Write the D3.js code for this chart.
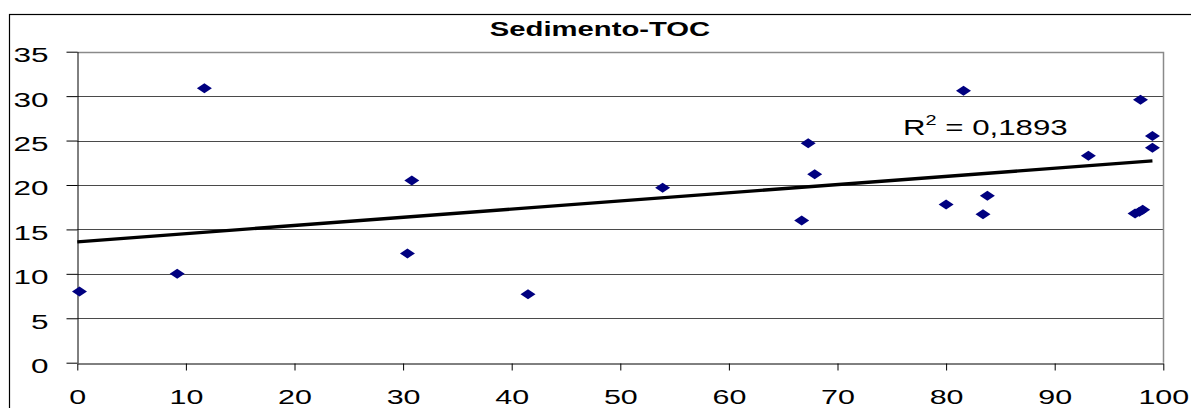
<!DOCTYPE html>
<html>
<head>
<meta charset="utf-8">
<script src="https://cdn.jsdelivr.net/npm/d3@7"></script>
<style>
  html, body { margin: 0; padding: 0; background: #fff; }
  svg { display: block; }
  text { font-family: "Liberation Sans", Arial, sans-serif; }
</style>
</head>
<body>
<svg id="chart" width="1191" height="408"></svg>
<script>
// ---- data ----
const title = "Sedimento-TOC";
const xValues = [0.2, 9.2, 11.7, 30.4, 30.8, 41.5, 53.9, 66.7, 67.3, 67.9, 80.0, 81.6, 83.4, 83.8, 93.1, 97.4, 97.8, 98.1, 97.9, 99.0, 99.0];
const yValues = [8.0, 10.0, 30.9, 12.3, 20.5, 7.7, 19.7, 16.0, 24.7, 21.2, 17.8, 30.6, 16.7, 18.8, 23.3, 16.8, 17.0, 17.2, 29.6, 25.5, 24.2];
const xTicks = [0, 10, 20, 30, 40, 50, 60, 70, 80, 90, 100];
const yTicks = [0, 5, 10, 15, 20, 25, 30, 35];
// linear trendline as drawn in the reference (intercept, slope)
const trendCoef = [13.6, 0.0921];
const r2Label = "0,1893";

const svg = d3.select("#chart");
const W = 1191, H = 408;
const plot = { left: 77.3, right: 1163.3, top: 51.7, bottom: 362.7 };

const x = d3.scaleLinear().domain([0, 100]).range([plot.left, plot.right]);
const y = d3.scaleLinear().domain([0, 35]).range([plot.bottom, plot.top]);

// outer chart frame
svg.append("rect")
  .attr("x", 9.5).attr("y", 14.5)
  .attr("width", W).attr("height", H)
  .attr("fill", "#fff").attr("stroke", "#000").attr("stroke-width", 1.2);

// title
svg.append("text")
  .attr("transform", `translate(600,35.5) scale(1.5,1)`)
  .attr("text-anchor", "middle")
  .attr("font-size", 19.5)
  .attr("font-weight", "bold")
  .text(title);

// gridlines
svg.append("g").selectAll("line")
  .data(yTicks.filter(d => d > 0 && d < 35))
  .join("line")
  .attr("x1", plot.left).attr("x2", plot.right)
  .attr("y1", d => Math.round(y(d)) + 0.5).attr("y2", d => Math.round(y(d)) + 0.5)
  .attr("stroke", "#4a4a4a").attr("stroke-width", 1);

// plot border top and right (gray)
svg.append("path")
  .attr("d", `M${plot.left},${Math.round(plot.top)+0.5}H${Math.round(plot.right)+0.5}V${plot.bottom}`)
  .attr("fill", "none").attr("stroke", "#8a8a8a").attr("stroke-width", 1.5);

// y axis
const yAxis = d3.axisLeft(y).tickValues(yTicks).tickSize(11).tickSizeOuter(0).tickFormat(d3.format("d"));
const gy = svg.append("g").attr("transform", `translate(${Math.round(plot.left)+0.5},0)`).call(yAxis);
gy.select(".domain").attr("stroke", "#000");
gy.selectAll(".tick line").attr("stroke", "#000");
gy.selectAll(".tick text").remove();
gy.selectAll(".tick").append("text")
  .attr("transform", "translate(-29,10) scale(1.5,1)")
  .attr("text-anchor", "end")
  .attr("fill", "#000")
  .attr("font-size", 21)
  .text(d => d);

// x axis
const xAxis = d3.axisBottom(x).tickValues(xTicks).tickSize(7).tickSizeOuter(0);
const gx = svg.append("g").attr("transform", `translate(0,${Math.round(plot.bottom)+0.5})`).call(xAxis);
gx.select(".domain").attr("stroke", "#000");
gx.selectAll(".tick line").attr("stroke", "#000");
gx.selectAll(".tick text").remove();
gx.selectAll(".tick").append("text")
  .attr("transform", "translate(0,40.5) scale(1.45,1)")
  .attr("text-anchor", "middle")
  .attr("fill", "#000")
  .attr("font-size", 21)
  .text(d => d);

// trendline
const x0 = 0, x1 = d3.max(xValues);
svg.append("line")
  .attr("x1", x(x0)).attr("y1", y(trendCoef[0] + trendCoef[1]*x0))
  .attr("x2", x(x1)).attr("y2", y(trendCoef[0] + trendCoef[1]*x1))
  .attr("stroke", "#000").attr("stroke-width", 3.4);

// points (diamonds)
const pts = xValues.map((v, i) => [v, yValues[i]]);
svg.append("g").selectAll("path")
  .data(pts)
  .join("path")
  .attr("d", d => {
    const cx = x(d[0]), cy = y(d[1]);
    return `M${cx-7.5},${cy}L${cx},${cy-5}L${cx+7.5},${cy}L${cx},${cy+5}Z`;
  })
  .attr("fill", "#000080");

// R² label
const rt = svg.append("text")
  .attr("transform", "translate(903,135) scale(1.42,1)")
  .attr("font-size", 22)
  .attr("fill", "#000");
rt.append("tspan").text("R");
rt.append("tspan").attr("font-size", 14).attr("dy", -10).text("2");
rt.append("tspan").attr("dy", 10).text(" = " + r2Label);
</script>
</body>
</html>
